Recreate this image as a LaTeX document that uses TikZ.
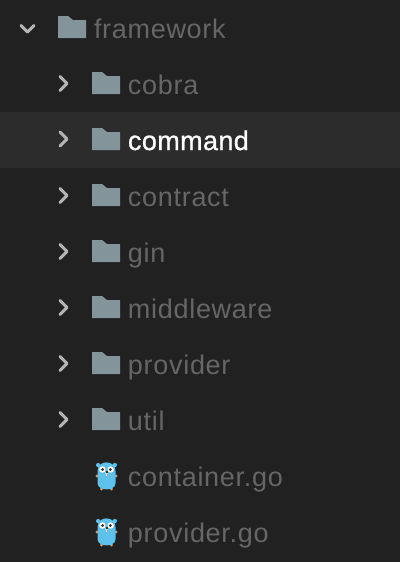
\documentclass[tikz,border=0pt]{standalone}
\usepackage{fontspec}
\setmainfont[LetterSpace=2.6]{Liberation Sans}
\newfontfamily\commandfont[FakeBold=0.9,LetterSpace=1.4]{Liberation Sans}
\usetikzlibrary{positioning}
\definecolor{panelbg}{HTML}{212121}
\definecolor{rowbg}{HTML}{2C2C2C}
\definecolor{foldergray}{HTML}{84949B}
\definecolor{labelgray}{HTML}{666666}
\definecolor{chevrongray}{HTML}{B4B4B4}
\definecolor{goblue}{HTML}{5DC1EC}
\definecolor{gotan}{HTML}{C99B7A}
\tikzset{
    label/.style={inner sep=0pt, outer sep=0pt, anchor=west, text=labelgray, font=\fontsize{19.2}{19}\selectfont, text height=14pt, text depth=4pt},
    chevron/.style={draw=chevrongray, line width=2.1pt, line cap=round, line join=round},
    folder/.pic={
        \fill[foldergray] (-14,-11) -- (-4,-11) -- (1,-7) -- (14,-7) -- (14,11) -- (-14,11) -- cycle;
    },
    gopher/.pic={
        \fill[gotan] (-9.5,0) circle (1.6) (9.5,0) circle (1.6) (-5,13) circle (1.6) (5,13) circle (1.6);
        \fill[goblue] (-8.4,-11) circle (2.1) (8.4,-11) circle (2.1);
        \fill[goblue] (-9,-5) .. controls (-9,-16.5) and (9,-16.5) .. (9,-5) -- (9,7) .. controls (9,15.5) and (-9,15.5) .. (-9,7) -- cycle;
        \fill[white] (-4.2,-6.5) circle (3.2) (4.2,-6.5) circle (3.2);
        \fill[black!85] (-3.8,-6.5) circle (1.5) (3.8,-6.5) circle (1.5);
        \fill[gotan!60!white] (-1.6,-4) rectangle (1.6,-2);
        \fill[black!80] (-1,-4.6) rectangle (1,-3.2);
        \fill[white] (-0.9,-2) rectangle (0.9,0);
    }
}
\begin{document}
\begin{tikzpicture}[x=0.025cm, y=-0.025cm, node distance=0cm, outer sep=0pt]
    \useasboundingbox (0,0) rectangle (400,562);
    \fill[panelbg] (0,0) rectangle (400,562);
    \fill[rowbg] (0,112) rectangle (400,168);

    % root folder
    \draw[chevron] (21,25.5) -- (27.5,32) -- (34,25.5);
    \pic at (72,27) {folder};
    \node [label] (framework) at (94,31) {framework};

    % sub folders
    \foreach \y/\name in {84/cobra, 196/contract, 252/gin, 308/middleware, 364/provider, 420/util} {
        \draw[chevron] (60,\y-7.5) -- (67,\y-0.5) -- (60,\y+6.5);
        \pic at (106,\y-1) {folder};
        \node [label] (\name) at (128,\y+3) {\name};
    }
    \draw[chevron] (60,132) -- (67,139) -- (60,146);
    \pic at (106,139) {folder};
    \node [label, text=white, font=\fontsize{19.2}{19}\commandfont] (command) at (128,143) {command};

    % go files
    \pic at (106.5,476) {gopher};
    \node [label] (container) at (128,479) {container.go};
    \pic at (106.5,532) {gopher};
    \node [label] (providergo) at (128,535) {provider.go};
\end{tikzpicture}
\end{document}
